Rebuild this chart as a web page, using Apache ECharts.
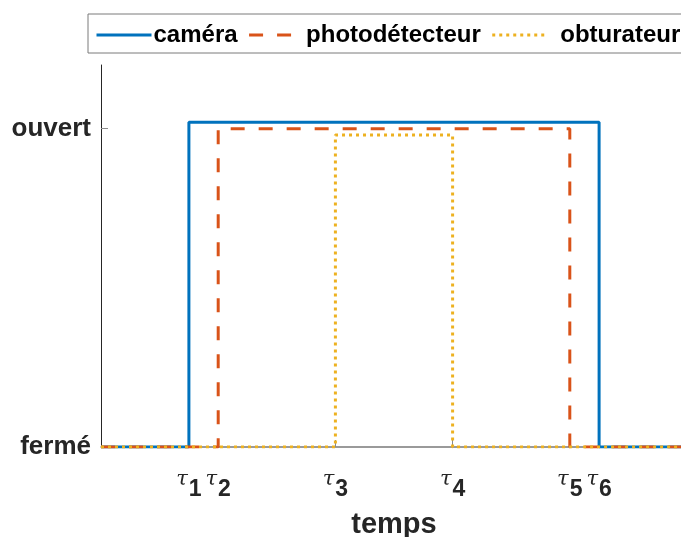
<!DOCTYPE html>
<html>
<head>
<meta charset="utf-8">
<script src="https://cdn.jsdelivr.net/npm/echarts@6/dist/echarts.min.js"></script>
<style>html,body{margin:0;padding:0;background:#fff;}#c{width:681px;height:537px;}</style>
</head>
<body>
<div id="c"></div>
<script>
// ---- data ----
const seriesNames = ['caméra', 'photodétecteur', 'obturateur'];
const tau = [3, 4, 8, 12, 16, 17];
const tauLabels = ['1', '2', '3', '4', '5', '6'];
const xRange = [0, 20];
const cameraX = [0, 3, 3, 17, 17, 20];
const cameraY = [0, 0, 1.02, 1.02, 0, 0];
const photoX = [0, 4, 4, 16, 16, 20];
const photoY = [0, 0, 1, 1, 0, 0];
const obturX = [0, 8, 8, 12, 12, 20];
const obturY = [0, 0, 0.98, 0.98, 0, 0];
const yTickValues = [0, 1];
const yTickLabels = ['fermé', 'ouvert'];
const xTitle = 'temps';

const zip = (xs, ys) => xs.map((x, i) => [x, ys[i]]);
const FONT = '"Liberation Sans", Arial, Helvetica, sans-serif';
const TXT = '#262626';

const chart = echarts.init(document.getElementById('c'), null, {renderer: 'canvas'});
chart.setOption({
  animation: false,
  backgroundColor: '#fff',
  textStyle: {fontFamily: FONT},
  legend: {
    left: 88, top: 14, width: 640,
    padding: [9, 7, 6, 7],
    itemWidth: 55, itemHeight: 24, itemGap: 10,
    backgroundColor: '#fff',
    borderColor: '#7a7a7a', borderWidth: 1,
    itemStyle: {opacity: 0},
    lineStyle: {width: 3},
    textStyle: {fontSize: 24, fontWeight: 'bold', color: '#000', fontFamily: FONT, padding: [0, 0, 0, -3]},
    data: [
      {name: seriesNames[0]},
      {name: seriesNames[1]},
      {name: seriesNames[2], textStyle: {padding: [0, 0, 0, 8]}}
    ]
  },
  grid: {left: 101, right: -6, top: 65, bottom: 90, containLabel: false, outerBoundsMode: 'none'},
  xAxis: {
    type: 'value', min: xRange[0], max: xRange[1],
    splitLine: {show: false},
    axisLine: {show: true, lineStyle: {color: '#7a7a7a', width: 1.5}},
    axisTick: {show: true, inside: true, length: 7, lineStyle: {color: '#8a8a8a'}, customValues: tau},
    axisLabel: {
      customValues: tau,
      margin: 24,
      formatter: (v) => {
        const i = tau.indexOf(v);
        return i < 0 ? '' : '{t|τ}{s|' + tauLabels[i] + '}';
      },
      rich: {
        t: {fontSize: 21, fontStyle: 'italic', color: TXT, fontFamily: '"DejaVu Serif", serif', lineHeight: 22, padding: [6, 1, 10, 0]},
        s: {fontSize: 23, fontWeight: 'bold', color: TXT, fontFamily: FONT, lineHeight: 22, padding: [16, 0, 0, 0]}
      }
    },
    name: xTitle, nameLocation: 'middle', nameGap: 63,
    nameTextStyle: {fontSize: 29, fontWeight: 'bold', color: TXT, fontFamily: FONT}
  },
  yAxis: {
    type: 'value', min: 0, max: 1.2,
    splitLine: {show: false},
    axisLine: {show: true, lineStyle: {color: '#262626', width: 1}},
    axisTick: {show: true, inside: true, length: 7, lineStyle: {color: '#8a8a8a'}, customValues: yTickValues},
    axisLabel: {
      customValues: yTickValues,
      margin: 10,
      fontSize: 26, fontWeight: 'bold', color: TXT, fontFamily: FONT,
      formatter: (v) => {
        const i = yTickValues.indexOf(v);
        return i < 0 ? '' : yTickLabels[i];
      }
    }
  },
  series: [
    {name: seriesNames[0], type: 'line', data: zip(cameraX, cameraY), symbol: 'none', z: 3,
     color: '#0072BD', lineStyle: {color: '#0072BD', width: 3, type: 'solid'}},
    {name: seriesNames[1], type: 'line', data: zip(photoX, photoY), symbol: 'none', z: 4,
     color: '#D95319', lineStyle: {color: '#D95319', width: 3, type: [14, 14]}},
    {name: seriesNames[2], type: 'line', data: zip(obturX, obturY), symbol: 'none', z: 5,
     color: '#EDB120', lineStyle: {color: '#EDB120', width: 3, type: [3, 4]}}
  ]
});
</script>
</body>
</html>
